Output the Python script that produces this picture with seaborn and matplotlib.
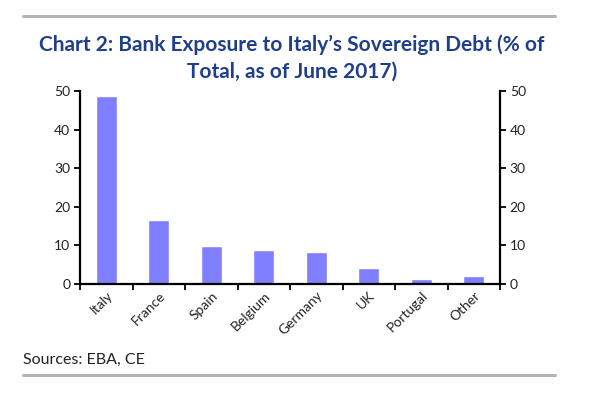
import matplotlib
matplotlib.use("Agg")
import matplotlib.pyplot as plt
import seaborn as sns
import pandas as pd
from matplotlib.lines import Line2D

categories = ["Italy", "France", "Spain", "Belgium", "Germany", "UK", "Portugal", "Other"]
values = [48.6, 16.6, 9.9, 8.7, 8.4, 4.2, 1.4, 2.2]
yticks = [0, 10, 20, 30, 40, 50]

sns.set_theme(style="white")
plt.rcParams["font.family"] = ["Lato", "DejaVu Sans"]

df = pd.DataFrame({"country": categories, "share": values})

fig = plt.figure(figsize=(5.96, 3.98), dpi=100)
ax = fig.add_axes([80/596, 1-284/398, 420/596, 193/398])

sns.barplot(data=df, x="country", y="share", color="#7f7fff", saturation=1,
            width=0.4, ax=ax, order=categories)

ax.set_ylim(0, 50)
ax.set_xlim(-0.5, len(categories) - 0.5)
ax.set_yticks(yticks)
ax.set_yticklabels([str(t) for t in yticks])
ax.set_xlabel("")
ax.set_ylabel("")

for s in ["left", "right", "bottom"]:
    ax.spines[s].set_visible(True)
    ax.spines[s].set_color("black")
    ax.spines[s].set_linewidth(1.6)
ax.spines["top"].set_visible(False)

ax.tick_params(axis="y", which="major", left=True, right=True, labelleft=True,
               labelright=True, direction="out", length=4, width=1.3,
               color="black", labelsize=10, labelcolor="#222222", pad=3)
ax.set_xticks(range(len(categories)))
ax.set_xticklabels(categories, rotation=45, ha="right", rotation_mode="anchor",
                   fontsize=10, color="#222222")
ax.tick_params(axis="x", which="major", length=0, pad=4)
ax.set_xticks([i - 0.5 for i in range(len(categories) + 1)], minor=True)
ax.tick_params(axis="x", which="minor", bottom=True, direction="out",
               length=4, width=1.3, color="black")

fig.text(0.490, 1-45/398, "Chart 2: Bank Exposure to Italy\u2019s Sovereign Debt (% of",
         ha="center", va="center", fontsize=15, fontweight="bold", color="#1f3f8c")
fig.text(0.490, 1-72/398, "Total, as of June 2017)",
         ha="center", va="center", fontsize=15, fontweight="bold", color="#1f3f8c")

fig.text(23/596, 1-360/398, "Sources: EBA, CE", ha="left", va="center",
         fontsize=11.5, color="#222222")

fig.add_artist(Line2D([23/596, 555/596], [1-15.5/398, 1-15.5/398],
                      color="#b3b3b3", linewidth=2.2, transform=fig.transFigure))
fig.add_artist(Line2D([23/596, 555/596], [1-375/398, 1-375/398],
                      color="#b3b3b3", linewidth=2.2, transform=fig.transFigure))

fig.savefig("out.png", dpi=100)
